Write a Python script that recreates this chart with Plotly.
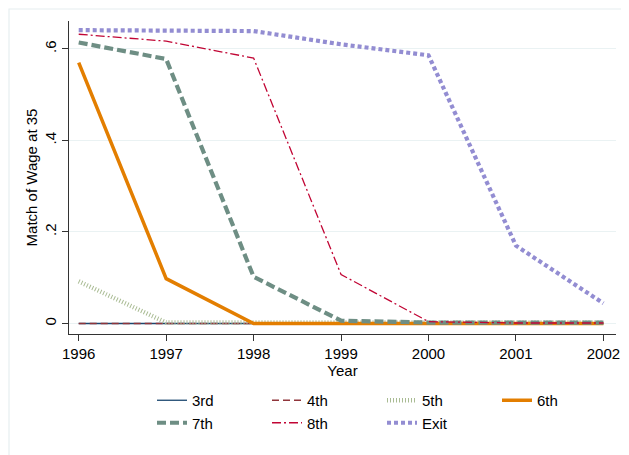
import plotly.graph_objects as go

years = [1996, 1997, 1998, 1999, 2000, 2001, 2002]
s3 = [0, 0, 0, 0, 0, 0, 0]
s4 = [0, 0, 0, 0, 0, 0, 0]
s5 = [0.092, 0.002, 0.002, 0.002, 0.002, 0.002, 0.002]
s6 = [0.570, 0.098, 0, 0, 0, 0, 0]
s7 = [0.614, 0.578, 0.102, 0.006, 0.002, 0.002, 0.002]
s8 = [0.632, 0.617, 0.580, 0.107, 0.004, 0.001, 0.001]
sexit = [0.641, 0.641, 0.639, 0.610, 0.586, 0.170, 0.044]

names = ["3rd", "4th", "5th", "6th", "7th", "8th", "Exit"]
series = [s3, s4, s5, s6, s7, s8, sexit]
colors = ["#1a476f", "#90353b", "#a9bb93", "#e37e00", "#6e8e84", "#c10534", "#938dd2"]
widths = [1.3, 1.3, 4.5, 3.5, 4.2, 1.3, 4.2]
dashes = ["solid", "7px,4px", "1px,2px", "solid", "9px,4px", "9px,3px,2px,3px", "4px,3px"]

fig = go.Figure()
for n, s, c, w, d in zip(names, series, colors, widths, dashes):
    fig.add_trace(go.Scatter(x=years, y=s, mode="lines", name=n,
                             line=dict(color=c, width=w, dash=d)))

# page body has an 8px margin, so the figure is sized to fit the 629x455 window
W, H = 621, 447
L, R, T, B = 61, 13, 13, 121
pw, ph = W - L - R, H - T - B

font = "Liberation Sans, Arial, sans-serif"
fig.update_layout(
    width=W, height=H,
    margin=dict(l=L, r=R, t=T, b=B),
    paper_bgcolor="white", plot_bgcolor="white",
    font=dict(family=font, size=15, color="black"),
    showlegend=True,
    legend=dict(orientation="h", xref="container", yref="container",
                x=144/W, y=1-376/H, xanchor="left", yanchor="top",
                entrywidth=70, font=dict(size=15), traceorder="normal",
                bgcolor="rgba(0,0,0,0)", tracegroupgap=0),
    xaxis=dict(range=[1995.889, 2002.144], tickvals=years,
               ticktext=[str(y) for y in years], automargin=False,
               showgrid=False, zeroline=False, showline=True,
               linecolor="#333", linewidth=1.2, ticks="outside", ticklen=6,
               tickcolor="#333", tickfont=dict(size=15), ticklabelstandoff=0,
               title=dict(text="Year", font=dict(size=15), standoff=4)),
    yaxis=dict(range=[-0.023, 0.661], tickvals=[0, 0.2, 0.4, 0.6],
               ticktext=["0", ".2", ".4", ".6"], tickangle=-90, automargin=False,
               showgrid=True, gridcolor="#eaf2f3", gridwidth=1.2,
               zeroline=False, showline=True, linecolor="#333", linewidth=1.2,
               ticks="outside", ticklen=6, tickcolor="#333",
               tickfont=dict(size=15), ticklabelstandoff=0,
               title=dict(text="Match of Wage at 35", font=dict(size=15), standoff=0)),
    shapes=[dict(type="rect", xref="paper", yref="paper",
                 x0=(1 - L) / pw, x1=1.2, y0=-1, y1=1 + (T - 1) / ph,
                 line=dict(color="#e6eef0", width=1.2), layer="below")],
)

fig.write_html("out.html")
